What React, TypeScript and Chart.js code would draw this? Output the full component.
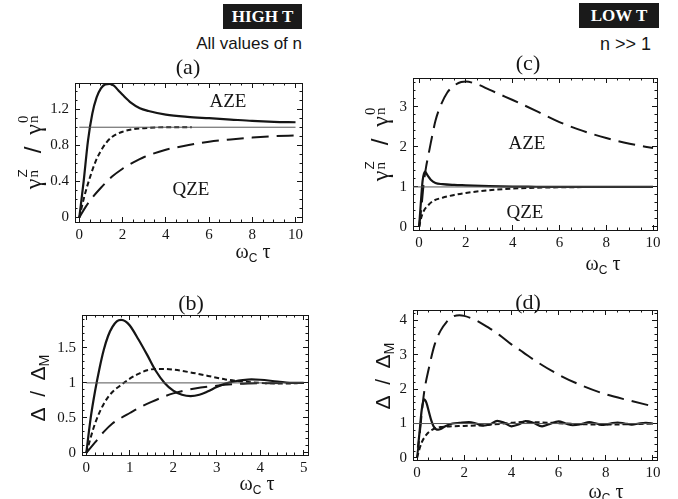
import React, { useEffect, useRef } from "react";
import { Chart, registerables } from "chart.js";
Chart.register(...registerables);

// ---------- Panel (a): HIGH T, gamma ratio ----------
const aSolidX = [0, 0.2, 0.4, 0.6, 0.8, 1.0, 1.2, 1.4, 1.6, 1.8, 2.0, 2.4, 2.8, 3.2, 4, 5, 6, 7, 8, 9, 10];
const aSolidY = [0, 0.4, 0.85, 1.15, 1.33, 1.43, 1.475, 1.48, 1.46, 1.41, 1.36, 1.27, 1.21, 1.18, 1.14, 1.115, 1.1, 1.085, 1.07, 1.06, 1.055];
const aShortX = [0, 0.25, 0.5, 0.75, 1, 1.25, 1.5, 2, 2.5, 3, 4, 5.2];
const aShortY = [0, 0.25, 0.45, 0.62, 0.74, 0.83, 0.89, 0.95, 0.98, 0.99, 1.0, 1.0];
const aLongX = [0, 0.3, 0.6, 1, 1.5, 2, 2.5, 3, 4, 5, 6, 7, 8, 9, 10];
const aLongY = [0, 0.12, 0.22, 0.33, 0.45, 0.54, 0.61, 0.67, 0.75, 0.8, 0.84, 0.865, 0.885, 0.9, 0.91];
const aUnityX = [0, 10];
const aXTicks = [0, 2, 4, 6, 8, 10];
const aYTicks = [0, 0.4, 0.8, 1.2];

// ---------- Panel (b): HIGH T, Delta ratio ----------
const bSolidX = [0, 0.1, 0.2, 0.3, 0.4, 0.5, 0.6, 0.7, 0.8, 0.9, 1.0, 1.2, 1.4, 1.6, 1.8, 2.0, 2.2, 2.4, 2.6, 2.8, 3.0, 3.2, 3.4, 3.6, 3.8, 4.0, 4.4, 4.8, 5];
const bSolidY = [0, 0.5, 0.88, 1.2, 1.47, 1.67, 1.8, 1.88, 1.9, 1.88, 1.82, 1.62, 1.4, 1.17, 1.0, 0.89, 0.83, 0.81, 0.83, 0.88, 0.94, 0.99, 1.02, 1.04, 1.05, 1.045, 1.02, 1.0, 1.0];
const bShortX = [0, 0.2, 0.4, 0.6, 0.8, 1.0, 1.2, 1.4, 1.6, 1.8, 2.0, 2.4, 2.8, 3.2, 3.6, 4.0, 4.5, 5];
const bShortY = [0, 0.42, 0.7, 0.87, 0.97, 1.06, 1.13, 1.18, 1.2, 1.2, 1.19, 1.15, 1.1, 1.05, 1.02, 1.0, 0.99, 1.0];
const bLongX = [0, 0.2, 0.4, 0.6, 0.8, 1.0, 1.2, 1.5, 2.0, 2.5, 3.0, 3.5, 4, 5];
const bLongY = [0, 0.15, 0.3, 0.42, 0.5, 0.57, 0.64, 0.73, 0.85, 0.92, 0.96, 0.985, 0.995, 1.0];
const bUnityX = [0, 5];
const bXTicks = [0, 1, 2, 3, 4, 5];
const bYTicks = [0, 0.5, 1, 1.5];

// ---------- Panel (c): LOW T, gamma ratio ----------
const cSolidX = [0, 0.05, 0.1, 0.15, 0.25, 0.35, 0.5, 0.7, 1, 1.5, 2, 3, 4, 5, 6, 10];
const cSolidY = [0, 0.4, 0.8, 1.15, 1.38, 1.3, 1.18, 1.1, 1.07, 1.05, 1.04, 1.02, 1.01, 1.005, 1.0, 1.0];
const cShortX = [0, 0.1, 0.2, 0.4, 0.6, 1, 1.5, 2, 3, 4, 5, 6, 8, 10];
const cShortY = [0, 0.25, 0.4, 0.55, 0.65, 0.73, 0.8, 0.85, 0.92, 0.96, 0.98, 0.99, 1.0, 1.0];
const cLongX = [0, 0.1, 0.2, 0.3, 0.4, 0.5, 0.7, 0.9, 1.2, 1.5, 1.8, 2, 2.5, 3, 3.5, 4, 5, 6, 7, 8, 9, 10];
const cLongY = [0, 0.5, 1.1, 1.5, 1.8, 2.1, 2.65, 3.0, 3.35, 3.53, 3.62, 3.63, 3.56, 3.43, 3.3, 3.17, 2.9, 2.62, 2.4, 2.22, 2.08, 1.97];
const cUnityX = [-0.3, 10];
const cXTicks = [0, 2, 4, 6, 8, 10];
const cYTicks = [0, 1, 2, 3];

// ---------- Panel (d): LOW T, Delta ratio ----------
const dSolidX = [0.04, 0.1, 0.2, 0.3, 0.4, 0.5, 0.6, 0.7, 0.8, 0.9, 1.0, 1.2, 1.5, 1.8, 2.2, 2.5, 2.8, 3.1, 3.4, 3.7, 4.0, 4.3, 4.6, 4.9, 5.3, 5.6, 6.0, 6.3, 6.6, 7.0, 7.3, 7.6, 7.9, 8.2, 8.5, 8.8, 9.1, 9.4, 9.7, 10];
const dSolidY = [0.3, 0.7, 1.4, 1.7, 1.6, 1.35, 1.1, 0.92, 0.84, 0.82, 0.84, 0.92, 1.0, 1.02, 1.04, 1.0, 0.94, 0.98, 1.08, 1.02, 0.92, 0.97, 1.07, 1.03, 0.92, 0.98, 1.06, 1.0, 0.95, 0.99, 1.04, 1.0, 0.96, 1.0, 1.03, 1.0, 0.97, 1.0, 1.02, 1.0];
const dShortX = [0, 0.1, 0.2, 0.4, 0.6, 0.8, 1, 1.5, 2, 3, 4, 4.6, 5, 6, 7, 8, 9, 10];
const dShortY = [0, 0.25, 0.45, 0.68, 0.8, 0.87, 0.9, 0.92, 0.93, 0.96, 1.02, 1.05, 1.04, 1.01, 0.98, 0.97, 0.98, 1.0];
const dLongX = [0, 0.1, 0.2, 0.3, 0.5, 0.75, 1, 1.25, 1.5, 1.8, 2, 2.5, 3, 3.5, 4, 4.5, 5, 6, 7, 8, 9, 10];
const dLongY = [0, 0.6, 1.3, 1.9, 2.6, 3.3, 3.7, 3.95, 4.1, 4.15, 4.13, 4.0, 3.8, 3.57, 3.3, 3.07, 2.83, 2.42, 2.1, 1.85, 1.67, 1.5];
const dUnityX = [-0.3, 10];
const dXTicks = [0, 2, 4, 6, 8, 10];
const dYTicks = [0, 1, 2, 3, 4];

const SERIF = "'Liberation Serif', 'DejaVu Serif', serif";
const SANS = "'Liberation Sans', Arial, sans-serif";
const INK = "#151515";

type Series = { sx: number[]; sy: number[]; shx: number[]; shy: number[]; lx: number[]; ly: number[]; ux: number[] };

const pts = (xs: number[], ys: number[]) => xs.map((x, i) => ({ x, y: ys[i] }));

function makeDatasets(s: Series) {
  return [
    { data: pts(s.ux, s.ux.map(() => 1)), borderColor: "#555", borderWidth: 1, pointRadius: 0, xAxisID: "x", yAxisID: "y" },
    { data: pts(s.lx, s.ly), borderColor: INK, borderWidth: 2, borderDash: [17, 8], pointRadius: 0, cubicInterpolationMode: "monotone", xAxisID: "x", yAxisID: "y" },
    { data: pts(s.shx, s.shy), borderColor: INK, borderWidth: 2, borderDash: [5, 3], pointRadius: 0, cubicInterpolationMode: "monotone", xAxisID: "x", yAxisID: "y" },
    { data: pts(s.sx, s.sy), borderColor: INK, borderWidth: 2.2, pointRadius: 0, cubicInterpolationMode: "monotone", xAxisID: "x", yAxisID: "y" },
  ];
}

const PADL = 50, PADT = 10, PADR = 12, PADB = 30;
const MAJOR_LEN = 5, MINOR_LEN = 2.5;

function stepValues(min: number, max: number, step: number) {
  const out: number[] = [];
  const k0 = Math.ceil(min / step - 1e-9);
  const k1 = Math.floor(max / step + 1e-9);
  for (let k = k0; k <= k1; k++) out.push(Math.round(k * step * 1000) / 1000);
  return out;
}

function makeAxis(opts: {
  position: string; min: number; max: number; values: number[]; len: number; size: number;
  weight: number; border: boolean; labels: boolean; padding?: number;
}) {
  const horizontal = opts.position === "top" || opts.position === "bottom";
  const fmt = (v: any) => String(Math.round(Number(v) * 100) / 100);
  return {
    type: "linear",
    position: opts.position,
    axis: horizontal ? "x" : "y",
    min: opts.min,
    max: opts.max,
    weight: opts.weight,
    grid: { display: true, drawOnChartArea: false, drawTicks: true, tickLength: -opts.len, color: INK, lineWidth: 1 },
    border: { display: opts.border, color: INK, width: 1 },
    afterBuildTicks: (s: any) => { s.ticks = opts.values.map((v) => ({ value: v })); },
    afterFit: (s: any) => {
      if (horizontal) s.height = opts.size; else s.width = opts.size;
      s.paddingTop = 0; s.paddingBottom = 0; s.paddingLeft = 0; s.paddingRight = 0;
    },
    ticks: opts.labels
      ? { display: true, padding: opts.padding, color: INK, font: { family: SERIF, size: 15 }, maxRotation: 0, autoSkip: false, callback: fmt }
      : { display: false },
  };
}

type PanelProps = {
  box: number[];
  xr: number[];
  yr: number[];
  xTicks: number[];
  yTicks: number[];
  minor: number[];
  series: Series;
};

function Panel({ box, xr, yr, xTicks, yTicks, minor, series }: PanelProps) {
  const ref = useRef<HTMLCanvasElement>(null);
  const [l, t, r, b] = box;
  const w = r - l + PADL + PADR;
  const h = b - t + PADT + PADB;
  useEffect(() => {
    const xMinorVals = stepValues(xr[0], xr[1], minor[0]);
    const yMinorVals = stepValues(yr[0], yr[1], minor[1]);
    const chart = new Chart(ref.current as HTMLCanvasElement, {
      type: "line",
      data: { datasets: makeDatasets(series) as any },
      options: {
        animation: false,
        responsive: false,
        maintainAspectRatio: false,
        layout: { padding: { left: 0, top: PADT, right: PADR, bottom: 0 } },
        plugins: { legend: { display: false }, tooltip: { enabled: false } },
        scales: {
          x: makeAxis({ position: "bottom", min: xr[0], max: xr[1], values: xTicks, len: MAJOR_LEN, size: PADB, weight: 1, border: true, labels: true, padding: 4 + MAJOR_LEN }),
          xm: makeAxis({ position: "bottom", min: xr[0], max: xr[1], values: xMinorVals, len: MINOR_LEN, size: 0, weight: 0, border: false, labels: false }),
          xt: makeAxis({ position: "top", min: xr[0], max: xr[1], values: xTicks, len: MAJOR_LEN, size: 0, weight: 1, border: true, labels: false }),
          xtm: makeAxis({ position: "top", min: xr[0], max: xr[1], values: xMinorVals, len: MINOR_LEN, size: 0, weight: 0, border: false, labels: false }),
          y: makeAxis({ position: "left", min: yr[0], max: yr[1], values: yTicks, len: MAJOR_LEN, size: PADL, weight: 1, border: true, labels: true, padding: 6 + MAJOR_LEN }),
          ym: makeAxis({ position: "left", min: yr[0], max: yr[1], values: yMinorVals, len: MINOR_LEN, size: 0, weight: 0, border: false, labels: false }),
          yr: makeAxis({ position: "right", min: yr[0], max: yr[1], values: yTicks, len: MAJOR_LEN, size: 0, weight: 1, border: true, labels: false }),
          yrm: makeAxis({ position: "right", min: yr[0], max: yr[1], values: yMinorVals, len: MINOR_LEN, size: 0, weight: 0, border: false, labels: false }),
        },
      } as any,
    });
    return () => chart.destroy();
  }, []);
  return (
    <canvas ref={ref} width={w} height={h} style={{ position: "absolute", left: l - PADL, top: t - PADT, width: w, height: h }} />
  );
}

const center = (x: number, y: number, extra: React.CSSProperties = {}): React.CSSProperties => ({
  position: "absolute", left: x, top: y, transform: "translate(-50%, -50%)", whiteSpace: "nowrap", lineHeight: 1, color: INK, ...extra,
});

function SubSup({ sup, sub, supSans }: { sup: string; sub: string; supSans?: boolean }) {
  return (
    <span style={{ display: "inline-block", position: "relative", width: "0.55em", height: "1em" }}>
      <span style={{ position: "absolute", left: 1, top: "-0.08em", fontSize: supSans ? "0.56em" : "0.62em", fontFamily: supSans ? SANS : SERIF, lineHeight: 1 }}>{sup}</span>
      <span style={{ position: "absolute", left: 1, top: "0.62em", fontSize: "0.62em", lineHeight: 1 }}>{sub}</span>
    </span>
  );
}

function GammaLabel({ x, y }: { x: number; y: number }) {
  return (
    <div style={center(x, y, { transform: "translate(-50%, -50%) rotate(-90deg)", fontFamily: SERIF, fontSize: 24, lineHeight: 1.2 })}>
      γ<SubSup sup="Z" sub="n" supSans />
      <span style={{ fontFamily: SANS }}>{"\u2002/\u2002"}</span>γ<SubSup sup="0" sub="n" />
    </div>
  );
}

function DeltaLabel({ x, y }: { x: number; y: number }) {
  return (
    <div style={center(x, y, { transform: "translate(-50%, -50%) rotate(-90deg)", fontFamily: SANS, fontSize: 21 })}>
      {"Δ\u2002/\u2002Δ"}<span style={{ fontSize: "0.68em", position: "relative", top: "0.3em" }}>M</span>
    </div>
  );
}

function OmegaLabel({ x, y }: { x: number; y: number }) {
  return (
    <div style={center(x, y, { fontFamily: SERIF, fontSize: 20 })}>
      ω<span style={{ fontFamily: SANS, fontSize: "0.6em", position: "relative", top: "0.35em" }}>C</span> τ
    </div>
  );
}

function Badge({ x, y, w, h, text }: { x: number; y: number; w: number; h: number; text: string }) {
  return (
    <div style={{ position: "absolute", left: x, top: y, width: w, height: h, background: "#1a1a1a", color: "#fff", fontFamily: SERIF, fontWeight: "bold", fontSize: 17, display: "flex", alignItems: "center", justifyContent: "center" }}>
      {text}
    </div>
  );
}

const seriesA: Series = { sx: aSolidX, sy: aSolidY, shx: aShortX, shy: aShortY, lx: aLongX, ly: aLongY, ux: aUnityX };
const seriesB: Series = { sx: bSolidX, sy: bSolidY, shx: bShortX, shy: bShortY, lx: bLongX, ly: bLongY, ux: bUnityX };
const seriesC: Series = { sx: cSolidX, sy: cSolidY, shx: cShortX, shy: cShortY, lx: cLongX, ly: cLongY, ux: cUnityX };
const seriesD: Series = { sx: dSolidX, sy: dSolidY, shx: dShortX, shy: dShortY, lx: dLongX, ly: dLongY, ux: dUnityX };

export default function App() {
  return (
    <div style={{ position: "fixed", left: 0, top: 0, width: 678, height: 499, background: "#fff", overflow: "hidden" }}>
      <Panel box={[75, 83, 302, 222]} xr={[-0.2, 10.3]} yr={[-0.05, 1.49]} xTicks={aXTicks} yTicks={aYTicks} minor={[0.5, 0.1]} series={seriesA} />
      <Panel box={[82, 315, 308, 455]} xr={[-0.1, 5.1]} yr={[-0.03, 1.97]} xTicks={bXTicks} yTicks={bYTicks} minor={[0.2, 0.1]} series={seriesB} />
      <Panel box={[413, 78, 657, 230]} xr={[-0.26, 10.17]} yr={[-0.075, 3.72]} xTicks={cXTicks} yTicks={cYTicks} minor={[0.5, 0.2]} series={seriesC} />
      <Panel box={[413, 310, 657, 460]} xr={[-0.17, 10.17]} yr={[-0.06, 4.3]} xTicks={dXTicks} yTicks={dYTicks} minor={[0.5, 0.2]} series={seriesD} />

      <Badge x={223} y={4} w={79} h={25} text="HIGH T" />
      <div style={{ position: "absolute", right: 678 - 302, top: 34, fontFamily: SANS, fontSize: 17, color: INK, whiteSpace: "nowrap" }}>All values of n</div>
      <Badge x={579} y={3} w={80} h={25} text="LOW T" />
      <div style={{ position: "absolute", right: 678 - 651, top: 34, fontFamily: SANS, fontSize: 18, color: INK, whiteSpace: "nowrap" }}>n &gt;&gt; 1</div>

      <div style={center(188, 67, { fontFamily: SERIF, fontSize: 22 })}>(a)</div>
      <div style={center(191, 303, { fontFamily: SERIF, fontSize: 22 })}>(b)</div>
      <div style={center(528, 63, { fontFamily: SERIF, fontSize: 22 })}>(c)</div>
      <div style={center(528, 302, { fontFamily: SERIF, fontSize: 22 })}>(d)</div>

      <div style={center(228, 100, { fontFamily: SERIF, fontSize: 19 })}>AZE</div>
      <div style={center(191, 188, { fontFamily: SERIF, fontSize: 19 })}>QZE</div>
      <div style={center(527, 142, { fontFamily: SERIF, fontSize: 19 })}>AZE</div>
      <div style={center(525, 211, { fontFamily: SERIF, fontSize: 19 })}>QZE</div>

      <GammaLabel x={32} y={150} />
      <DeltaLabel x={37} y={388} />
      <GammaLabel x={379} y={142} />
      <DeltaLabel x={382} y={376} />

      <OmegaLabel x={253} y={251} />
      <OmegaLabel x={257} y={483} />
      <OmegaLabel x={603} y={263} />
      <OmegaLabel x={606} y={491} />
    </div>
  );
}
